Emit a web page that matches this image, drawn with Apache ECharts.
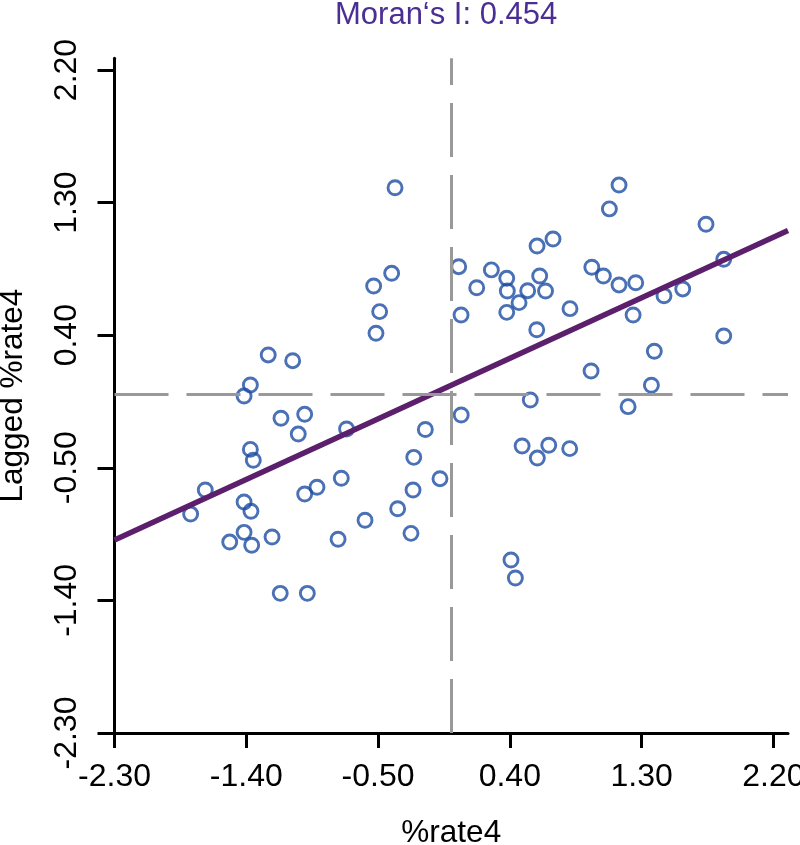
<!DOCTYPE html>
<html>
<head>
<meta charset="utf-8">
<script src="https://cdn.jsdelivr.net/npm/echarts@6/dist/echarts.min.js"></script>
<style>
html,body{margin:0;padding:0;background:#fff;}
#chart{width:800px;height:845px;}
</style>
</head>
<body>
<div id="chart"></div>
<script>
// x values (%rate4)
var rateX = [
 -1.250,-1.083,-1.372,-1.415,-1.163,-1.001,-1.045,-0.715,-1.372,-1.352,
 -1.680,-1.780,-1.415,-1.368,-1.001,-0.917,-0.751,-1.415,-1.513,-1.363,
 -1.224,-0.773,-1.168,-0.983,-0.384,-0.407,-0.530,-0.489,-0.514, 0.051,
  0.067, 0.174, 0.274, 0.379, 0.383, 0.522, 0.463, 0.379, 0.586, 0.604,
  0.644, 0.695, 0.584, 0.540, 0.068,-0.177,-0.256,-0.077,-0.261,-0.366,
 -0.589,-0.275, 0.484, 0.666, 0.588, 0.809, 0.408, 0.438, 1.146, 1.080,
  1.740, 0.960, 1.039, 1.146, 1.260, 0.811, 1.453, 1.581, 1.861, 1.242,
  1.861, 1.387, 0.955, 1.367, 1.208
];
// lagged values (Lagged %rate4)
var laggedY = [
  0.266, 0.227, 0.062,-0.013,-0.164,-0.137,-0.271,-0.237,-0.375,-0.449,
 -0.651,-0.814,-0.732,-0.795,-0.678,-0.632,-0.571,-0.938,-1.004,-1.026,
 -0.970,-0.985,-1.352,-1.352, 1.401, 0.820, 0.734, 0.560, 0.413, 0.865,
  0.537, 0.722, 0.843, 0.786, 0.700, 0.702, 0.621, 0.555, 1.005, 0.802,
  0.700, 1.053, 0.437,-0.040,-0.142,-0.240,-0.429,-0.574,-0.651,-0.778,
 -0.856,-0.945,-0.352,-0.347,-0.434,-0.370,-1.126,-1.248, 1.419, 1.257,
  1.153, 0.861, 0.802, 0.741, 0.756, 0.580, 0.668, 0.714, 0.915, 0.537,
  0.395, 0.291, 0.157, 0.060,-0.085
];
// regression line end points
var regX = [-2.30, 2.30];
var regY = [-0.99, 1.11];
// mean reference lines
var meanX = 0;
var meanY = 0;
// tick labels
var xTicks = [-2.30, -1.40, -0.50, 0.40, 1.30, 2.20];
var yTicks = [-2.30, -1.40, -0.50, 0.40, 1.30, 2.20];
var titleText = 'Moran\u2018s I: 0.454';

var points = rateX.map(function (x, i) { return [x, laggedY[i]]; });
var regLine = regX.map(function (x, i) { return [x, regY[i]]; });

var FONT = 'Liberation Sans, Arial, Helvetica, sans-serif';
var chart = echarts.init(document.getElementById('chart'), null, {renderer: 'canvas'});
chart.setOption({
  animation: false,
  backgroundColor: '#ffffff',
  title: {
    text: titleText,
    left: 335, top: 0, padding: 0,
    textStyle: {fontFamily: FONT, fontSize: 31, fontWeight: 'normal', color: '#4b2e93', lineHeight: 30}
  },
  grid: {left: 114.5, right: 12, top: 58.2, bottom: 112, containLabel: false, outerBoundsMode: 'none'},
  xAxis: {
    type: 'value', min: -2.30, max: 2.30,
    name: '%rate4', nameLocation: 'middle', nameGap: 85,
    nameTextStyle: {fontFamily: FONT, fontSize: 31.5, color: '#000', lineHeight: 31},
    axisLine: {show: true, onZero: false, lineStyle: {color: '#000', width: 3}},
    axisTick: {show: true, length: 15, customValues: xTicks, lineStyle: {color: '#000', width: 3}},
    axisLabel: {customValues: xTicks, margin: 28, fontFamily: FONT, fontSize: 32, color: '#000', lineHeight: 32,
      formatter: function (v) { return v.toFixed(2); }},
    splitLine: {show: false}
  },
  yAxis: {
    type: 'value', min: -2.30, max: 2.28,
    name: 'Lagged %rate4', nameLocation: 'middle', nameGap: 86, nameRotate: 90,
    nameTextStyle: {fontFamily: FONT, fontSize: 31.5, color: '#000', lineHeight: 31},
    axisLine: {show: true, onZero: false, lineStyle: {color: '#000', width: 3}},
    axisTick: {show: true, length: 17, customValues: yTicks, lineStyle: {color: '#000', width: 3}},
    axisLabel: {customValues: yTicks, rotate: 90, margin: 31, fontFamily: FONT, fontSize: 32, color: '#000', lineHeight: 32,
      formatter: function (v) { return v.toFixed(2); }},
    splitLine: {show: false}
  },
  series: [
    {
      type: 'scatter',
      data: points,
      symbol: 'circle',
      symbolSize: 14,
      itemStyle: {color: 'rgba(0,0,0,0)', borderColor: '#1d4ca3', borderWidth: 2.9},
      emphasis: {disabled: true},
      z: 2
    },
    {
      type: 'line',
      data: [],
      silent: true,
      z: 3,
      markLine: {
        silent: true,
        symbol: ['none', 'none'],
        label: {show: false},
        lineStyle: {color: '#999999', width: 3, type: [54, 18]},
        data: [{xAxis: meanX}, {yAxis: meanY}]
      }
    },
    {
      type: 'line',
      data: regLine,
      showSymbol: false,
      symbol: 'none',
      silent: true,
      lineStyle: {color: '#5b1f6b', width: 5.5},
      z: 4
    }
  ]
});
</script>
</body>
</html>
